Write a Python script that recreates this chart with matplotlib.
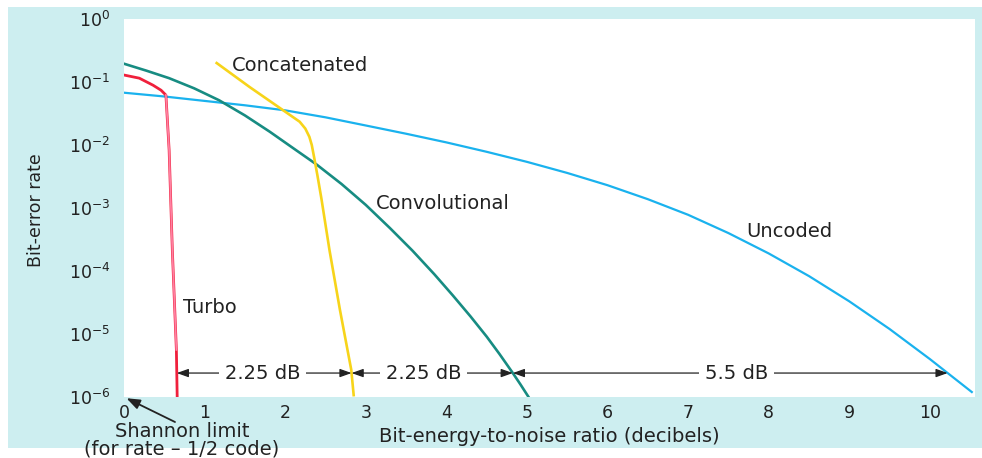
import matplotlib.pyplot as plt
import numpy as np
from matplotlib.patches import Rectangle

# values (Eb/N0 in dB, bit-error rate)
turbo_x = [0.0, 0.19, 0.36, 0.46, 0.52, 0.56, 0.60, 0.65, 0.66]
turbo_y = [1.29e-1, 1.15e-1, 8.9e-2, 7.4e-2, 6.2e-2, 8.3e-3, 2.1e-4, 5.6e-6, 1e-6]

uncoded_x = [0.0, 0.5, 1.0, 1.5, 2.0, 2.5, 3.0, 3.5, 4.0, 4.5, 5.0, 5.5, 6.0,
             6.5, 7.0, 7.5, 8.0, 8.5, 9.0, 9.5, 10.0, 10.52]
uncoded_y = [6.76e-2, 5.89e-2, 5.01e-2, 4.27e-2, 3.55e-2, 2.75e-2, 2.04e-2,
             1.51e-2, 1.1e-2, 7.8e-3, 5.4e-3, 3.6e-3, 2.3e-3, 1.38e-3,
             7.8e-4, 4.0e-4, 1.9e-4, 8.3e-5, 3.3e-5, 1.2e-5, 4.0e-6, 1.2e-6]

conv_x = [0.0, 0.28, 0.56, 0.87, 1.18, 1.5, 1.81, 2.1, 2.39, 2.7, 3.0, 3.3,
          3.58, 3.85, 4.08, 4.3, 4.5, 4.66, 4.82, 4.92, 5.02]
conv_y = [1.95e-1, 1.51e-1, 1.15e-1, 7.94e-2, 5.13e-2, 2.95e-2, 1.62e-2,
          8.9e-3, 4.9e-3, 2.4e-3, 1.12e-3, 4.8e-4, 2.1e-4, 8.9e-5, 4.1e-5,
          1.9e-5, 9.1e-6, 4.8e-6, 2.45e-6, 1.58e-6, 1.0e-6]

concat_x = [1.15, 1.56, 1.93, 2.18, 2.25, 2.30, 2.33, 2.36, 2.40, 2.45, 2.55,
            2.68, 2.82, 2.85]
concat_y = [2.0e-1, 8.3e-2, 3.9e-2, 2.34e-2, 1.82e-2, 1.35e-2, 1.0e-2, 6.3e-3,
            3.3e-3, 1.4e-3, 2.14e-4, 2.4e-5, 2.7e-6, 1.07e-6]

xticks = [0, 1, 2, 3, 4, 5, 6, 7, 8, 9, 10]
yticks = [1e-6, 1e-5, 1e-4, 1e-3, 1e-2, 1e-1, 1e0]
ytick_labels = [r'$10^{-6}$', r'$10^{-5}$', r'$10^{-4}$', r'$10^{-3}$',
                r'$10^{-2}$', r'$10^{-1}$', r'$10^{0}$']
dim_level = 2.4e-6
dim_labels = ['2.25 dB', '2.25 dB', '5.5 dB']
dim_label_x = [1.72, 3.72, 7.6]

plt.rcParams['font.family'] = ['DejaVu Sans']
plt.rcParams['mathtext.fontset'] = 'dejavusans'
ink = '#222222'
fs = 14

fig = plt.figure(figsize=(9.82, 4.58), dpi=100)
fig.patch.set_facecolor('white')
fig.patches.append(Rectangle((8 / 982, 10 / 458), 974 / 982, 441 / 458,
                             transform=fig.transFigure, facecolor='#cdeef0',
                             edgecolor='none', zorder=-10))

ax = fig.add_axes([124 / 982, 61 / 458, 851 / 982, 378 / 458])
ax.set_facecolor('white')
ax.set_yscale('log')
ax.set_xlim(0, 10.56)
ax.set_ylim(1e-6, 1)
for s in ax.spines.values():
    s.set_visible(False)
ax.set_xticks(xticks)
ax.set_yticks(yticks)
ax.set_yticklabels(ytick_labels)
ax.minorticks_off()
ax.tick_params(length=0, labelsize=12.5, colors=ink)
ax.tick_params(axis='x', pad=5)
ax.tick_params(axis='y', pad=10)

ax.plot(uncoded_x, uncoded_y, color='#1ab2ee', lw=1.6, zorder=3)
ax.plot(conv_x, conv_y, color='#178c82', lw=1.9, zorder=3)
ax.plot(concat_x, concat_y, color='#f7d41a', lw=1.9, zorder=3)
ax.plot(turbo_x, turbo_y, color='#f0203c', lw=2.0, zorder=4)
ax.plot(turbo_x[4:8], turbo_y[4:8], color='#ff80a2', lw=1.3, zorder=4)

# dimension arrows between the curves at a fixed error rate
lvl = np.log10(dim_level)
def cross(xs, ys):
    ly = np.log10(ys)
    return float(np.interp(lvl, ly[::-1], np.array(xs)[::-1]))

ends = [cross(turbo_x, turbo_y), cross(concat_x, concat_y),
        cross(conv_x, conv_y), cross(uncoded_x, uncoded_y)]
for i in range(3):
    ax.annotate('', xy=(ends[i], dim_level), xytext=(ends[i + 1], dim_level),
                arrowprops=dict(arrowstyle='<|-|>,head_length=0.7,head_width=0.25',
                                color=ink, lw=0.9, shrinkA=0, shrinkB=0,
                                mutation_scale=10),
                zorder=5)
    ax.text(dim_label_x[i], dim_level, dim_labels[i], fontsize=fs,
            ha='center', va='center', color=ink, zorder=6,
            bbox=dict(facecolor='white', edgecolor='none', pad=4))

ax.text(1.34, 1.86e-1, 'Concatenated', fontsize=fs, color=ink, va='center')
ax.text(3.13, 1.2e-3, 'Convolutional', fontsize=fs, color=ink, va='center')
ax.text(7.72, 4.3e-4, 'Uncoded', fontsize=fs, color=ink, va='center')
ax.text(0.73, 2.6e-5, 'Turbo', fontsize=fs, color=ink, va='center')

fig.text(182 / 982, 18 / 458, 'Shannon limit\n(for rate \u2013 1/2 code)',
         ha='center', va='center', fontsize=fs, color=ink, linespacing=0.92)
ax.annotate('', xy=(0.0, 1e-6), xytext=(175, 458 - 422),
            textcoords='figure pixels', annotation_clip=False,
            arrowprops=dict(arrowstyle='-|>,head_length=0.8,head_width=0.3',
                            color=ink, lw=1.3, shrinkA=0, shrinkB=2,
                            mutation_scale=10))

fig.text(549 / 982, 21 / 458, 'Bit-energy-to-noise ratio (decibels)',
         ha='center', va='center', fontsize=fs, color=ink)
fig.text(36 / 982, 1 - 210 / 458, 'Bit-error rate', rotation=90,
         ha='center', va='center', fontsize=12.5, color=ink)

fig.savefig('out.png', dpi=100)
